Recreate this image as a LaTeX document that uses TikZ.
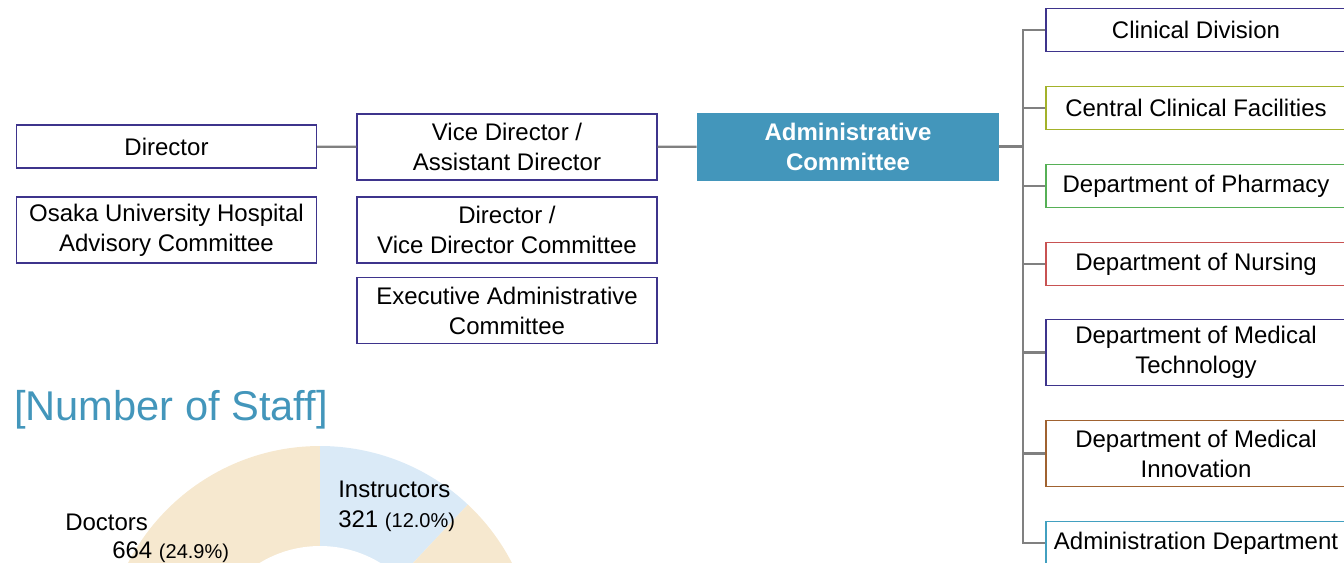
\documentclass[tikz,border=0pt]{standalone}
\usepackage{fontspec}
\setmainfont{Liberation Sans}
\usepackage{xcolor}
\usepackage{tikz}

\definecolor{orgline}{RGB}{128,128,128}
\definecolor{boxindigo}{RGB}{62,52,140}
\definecolor{boxolive}{RGB}{163,178,42}
\definecolor{boxgreen}{RGB}{86,176,86}
\definecolor{boxred}{RGB}{200,82,82}
\definecolor{boxbrown}{RGB}{160,98,48}
\definecolor{boxteal}{RGB}{66,160,192}
\definecolor{adminblue}{RGB}{67,150,187}
\definecolor{doctorfill}{RGB}{246,232,207}
\definecolor{instructorfill}{RGB}{218,234,247}

\begin{document}
\begin{tikzpicture}[x=0.75pt,y=0.75pt,yscale=-1,xscale=1,
  every node/.style={font=\fontsize{18}{22.5}\selectfont, inner sep=0pt},
  unitbox/.style={draw=#1, line width=1.1pt, fill=white, align=center, minimum width=225pt, minimum height=32.5pt},
  unitbox/.default=boxindigo,
  tallbox/.style={unitbox=#1, minimum height=49.5pt},
  tallbox/.default=boxindigo,
  link/.style={draw=orgline, line width=1.6pt}]
\useasboundingbox (0,0) rectangle (1344,562);
\clip (0,0) rectangle (1344,562);

%Shape: Donut [id:staff]
\coordinate (donut) at (320,662);
\fill[doctorfill] (donut) -- ++(-90:216) arc[start angle=-90, end angle=-179.64, radius=216] -- cycle;
\fill[instructorfill] (donut) -- ++(-90:216) arc[start angle=-90, end angle=-46.8, radius=216] -- cycle;
\fill[doctorfill] (donut) -- ++(-46.8:216) arc[start angle=-46.8, end angle=10, radius=216] -- cycle;
\fill[white] (donut) circle[radius=116];

% Text Node
\node (title) [anchor=base west, font=\fontsize{31.2}{36}\selectfont, text=adminblue] at (14,420) {[Number of Staff]};
% Text Node
\node (doclabel) [anchor=base west] at (65,530) {Doctors};
\node (docvalue) [anchor=base west] at (112,558) {664 {\fontsize{15}{18}\selectfont(24.9\%)}};
% Text Node
\node (inslabel) [anchor=base west] at (338,497) {Instructors};
\node (insvalue) [anchor=base west] at (338,527) {321 {\fontsize{15}{18}\selectfont(12.0\%)}};

%Shape: Rectangle [id:director]
\node (dir) [unitbox] at (166.5,146.5) {Director};
\node (adv) [tallbox] at (166.5,230) {Osaka University Hospital\\Advisory Committee};
%Shape: Rectangle [id:vice]
\node (vice) [tallbox] at (507,147) {Vice Director /\\Assistant Director};
\node (dvc) [tallbox] at (507,230) {Director /\\Vice Director Committee};
\node (exec) [tallbox] at (507,310.5) {Executive Administrative\\Committee};
%Shape: Rectangle [id:admin]
\node (admin) [fill=adminblue, text=white, align=center, minimum width=226.5pt, minimum height=51pt, font=\fontsize{18}{22.5}\selectfont\bfseries] at (848,146.5) {Administrative\\Committee};

%Shape: Rectangle [id:units]
\node (clin) [unitbox] at (1196,30) {Clinical Division};
\node (ccf) [unitbox=boxolive] at (1196,108) {Central Clinical Facilities};
\node (pharm) [unitbox=boxgreen] at (1196,186) {Department of Pharmacy};
\node (nurs) [unitbox=boxred] at (1196,264) {Department of Nursing};
\node (mtech) [tallbox] at (1196,352.5) {Department of Medical\\Technology};
\node (minno) [tallbox=boxbrown] at (1196,453.5) {Department of Medical\\Innovation};
\node (adept) [unitbox=boxteal] at (1196,543) {Administration Department};

%Straight Lines
\coordinate (hub) at (1023,146.5);
\draw[link] (dir) -- (vice);
\draw[link] (vice) -- (admin);
\draw[link] (admin) -- (hub);
\foreach \u in {clin,ccf,pharm,nurs,mtech,minno,adept}
  \draw[link] (hub) |- (\u.west);
\end{tikzpicture}
\end{document}
